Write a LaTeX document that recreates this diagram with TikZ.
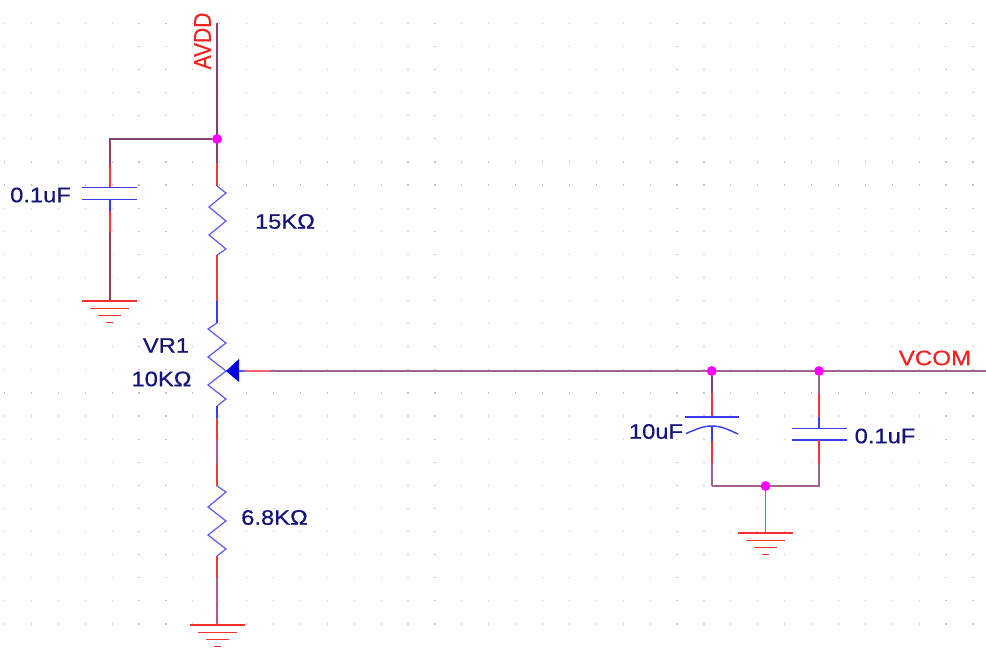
\documentclass[tikz,border=0pt]{standalone}
\usepackage{fontspec}
\setmainfont{Liberation Sans}
\newfontfamily\lblfont[FakeBold=0.5]{Liberation Sans}
\definecolor{wirec}{HTML}{84406E}
\definecolor{wirel}{HTML}{A4608E}
\definecolor{stubr}{HTML}{F0353F}
\definecolor{stubb}{HTML}{3A3AF0}
\definecolor{zig}{HTML}{5A5AF0}
\definecolor{gndr}{HTML}{F23030}
\definecolor{txtb}{HTML}{14147A}
\definecolor{txtr}{HTML}{F52020}
\definecolor{griddot}{HTML}{C4C4C4}
\definecolor{junc}{HTML}{FF00FF}
\tikzset{
  wire/.style={draw=wirec,line width=1.7pt},
  wirelight/.style={draw=wirel,line width=1.7pt},
  stubred/.style={draw=stubr,line width=1.6pt},
  stubpale/.style={draw=stubr!75,line width=1.6pt},
  stubblue/.style={draw=stubb,line width=1.6pt},
  zigzag/.style={draw=zig,line width=1.2pt,line join=miter},
  plate/.style={draw=stubb,line width=1.4pt},
  gndline/.style={draw=gndr,line width=1.4pt},
  junction/.style={circle,fill=junc,draw=none,inner sep=0pt,minimum size=9.5pt},
  partlabel/.style={text=txtb,font=\lblfont\fontsize{21}{21}\selectfont,xscale=1.13,inner sep=0pt},
  netlabel/.style={text=txtr,font=\lblfont\fontsize{21}{21}\selectfont,inner sep=0pt},
}
\newcommand{\gndsym}[1]{%
  \draw[gndline] ([xshift=-27.5pt]#1) -- ([xshift=27.5pt]#1);
  \draw[gndline] ([xshift=-19.5pt,yshift=-7.2pt]#1) -- ([xshift=19.5pt,yshift=-7.2pt]#1);
  \draw[gndline] ([xshift=-11.5pt,yshift=-14.4pt]#1) -- ([xshift=11.5pt,yshift=-14.4pt]#1);
  \draw[gndline] ([xshift=-3.5pt,yshift=-21.6pt]#1) -- ([xshift=3.5pt,yshift=-21.6pt]#1);
}
\begin{document}
\begin{tikzpicture}[x=1pt,y=-1pt]
\useasboundingbox (0,0) rectangle (986,649);
\fill[white] (0,0) rectangle (986,649);
% grid
\foreach \i in {0,...,36}{\foreach \j in {0,...,26}{
  \fill[griddot] ({4.5+26.9*\i-0.6},{23.3+23.1*\j-0.6}) rectangle ++(1.2,1.2);
}}
% named points
\coordinate (avddtop) at (217,23);
\node[junction] (j1) at (217,139) {};
\coordinate (a1) at (217,163);
\coordinate (r1t) at (217,186);
\coordinate (r1b) at (217,255);
\coordinate (a2) at (217,301);
\coordinate (vrt) at (217,323);
\coordinate (vrb) at (217,406);
\coordinate (a3) at (217,418);
\coordinate (a4) at (217,440);
\coordinate (a5) at (217,464);
\coordinate (r2t) at (217,486);
\coordinate (r2b) at (217,556);
\coordinate (a6) at (217,578);
\coordinate (g1) at (217,625);
\coordinate (c1c) at (109.7,139);
\coordinate (c1a) at (109.7,165);
\coordinate (c1t) at (109.7,187.5);
\coordinate (c1b) at (109.7,199.5);
\coordinate (c1d) at (109.7,211);
\coordinate (c1e) at (109.7,233);
\coordinate (g2) at (109.7,301);
\coordinate (wtip) at (226,371);
\coordinate (wbase) at (239,371);
\coordinate (w1) at (245,371);
\coordinate (w2) at (270,371);
\node[junction] (j2) at (711.7,371) {};
\node[junction] (j3) at (819,371) {};
\coordinate (vend) at (986,371);
\coordinate (c2a) at (711.7,393);
\coordinate (c2t) at (711.7,417);
\coordinate (c2b) at (711.7,426);
\coordinate (c2d) at (711.7,441);
\coordinate (c2e) at (711.7,463);
\coordinate (c2f) at (711.7,486);
\coordinate (c3a) at (819,394);
\coordinate (c3b) at (819,417);
\coordinate (c3t) at (819,428.7);
\coordinate (c3u) at (819,440);
\coordinate (c3e) at (819,463);
\coordinate (c3f) at (819,486);
\node[junction] (j4) at (765.5,486) {};
\coordinate (g3) at (765.5,533);
% main vertical
\draw[wire] (avddtop) -- (a1);
\draw[stubred] (a1) -- (r1t);
\draw[zigzag] (r1t) -- ++(9,7) -- ++(-17,14) -- ++(17,14) -- ++(-17,14) -- ++(17,14) -- (r1b);
\draw[stubred] (r1b) -- (a2);
\draw[stubblue] (a2) -- (vrt);
\draw[zigzag] (vrt) -- ++(-9,6) -- ++(18,14) -- ++(-18,14) -- (wtip) -- ++(-18,14) -- ++(18,14) -- (vrb);
\draw[stubblue] (vrb) -- (a3);
\draw[stubred] (a3) -- (a4);
\draw[wirelight] (a4) -- (a5);
\draw[stubred] (a5) -- (r2t);
\draw[zigzag] (r2t) -- ++(9,6) -- ++(-18,15) -- ++(18,14) -- ++(-18,14) -- ++(18,14) -- (r2b);
\draw[stubred] (r2b) -- (a6);
\draw[wirelight] (a6) -- (g1);
\gndsym{g1}
% left capacitor
\draw[wire] (j1) -- (c1c) -- (c1a);
\draw[stubred] (c1a) -- (c1t);
\draw[plate] ([xshift=-27.7pt]c1t) -- ([xshift=27.7pt]c1t);
\draw[plate] ([xshift=-27.7pt]c1b) -- ([xshift=27.7pt]c1b);
\draw[stubblue] (c1b) -- (c1d);
\draw[stubred] (c1d) -- (c1e);
\draw[wire] (c1e) -- (g2);
\gndsym{g2}
% wiper
\fill[blue!90!black] (wtip) -- (239,359) -- (239,382) -- cycle;
\draw[zigzag] (wbase) -- (w1);
\draw[stubpale] (w1) -- (w2);
\draw[wirelight] (w2) -- (vend);
% 10uF
\draw[wire] (j2) -- (c2a);
\draw[stubred] (c2a) -- (c2t);
\draw[plate] ([xshift=-26.7pt]c2t) -- ([xshift=27.3pt]c2t);
\draw[plate] (686,433.5) .. controls (697,429) and (703,426) .. (c2b) .. controls (721,426) and (727,429) .. (738,434);
\draw[stubblue] (c2b) -- (c2d);
\draw[stubred] (c2d) -- (c2e);
\draw[wirelight] (c2e) -- (c2f);
% 0.1uF right
\draw[wirelight] (j3) -- (c3a);
\draw[stubred] (c3a) -- (c3b);
\draw[stubblue] (c3b) -- (c3t);
\draw[plate] ([xshift=-27.5pt]c3t) -- ([xshift=27.5pt]c3t);
\draw[plate] ([xshift=-27.5pt]c3u) -- ([xshift=27.5pt]c3u);
\draw[stubred] (c3u) -- (c3e);
\draw[wirelight] (c3e) -- (c3f) -- (c2f);
\draw[wirelight] (j4) -- (g3);
\gndsym{g3}
% junctions on top
\node[junction] at (j1) {};
\node[junction] at (j2) {};
\node[junction] at (j3) {};
\node[junction] at (j4) {};
% labels
\node[netlabel,rotate=90] (avdd) at (202.5,41) {\scalebox{1}[1.15]{AVDD}};
\node[netlabel,xscale=1.15] (vcom) at (935,358) {VCOM};
\node[partlabel] (lc1) at (40.5,195) {0.1uF};
\node[partlabel] (lr1) at (285,221.5) {15K\symbol{"03A9}};
\node[partlabel] (lvr) at (166,345.5) {VR1};
\node[partlabel] (lpot) at (161.5,379) {10K\symbol{"03A9}};
\node[partlabel] (lr2) at (274.5,517.5) {6.8K\symbol{"03A9}};
\node[partlabel] (lc2) at (656,431.5) {10uF};
\node[partlabel] (lc3) at (885,436) {0.1uF};
\end{tikzpicture}
\end{document}
